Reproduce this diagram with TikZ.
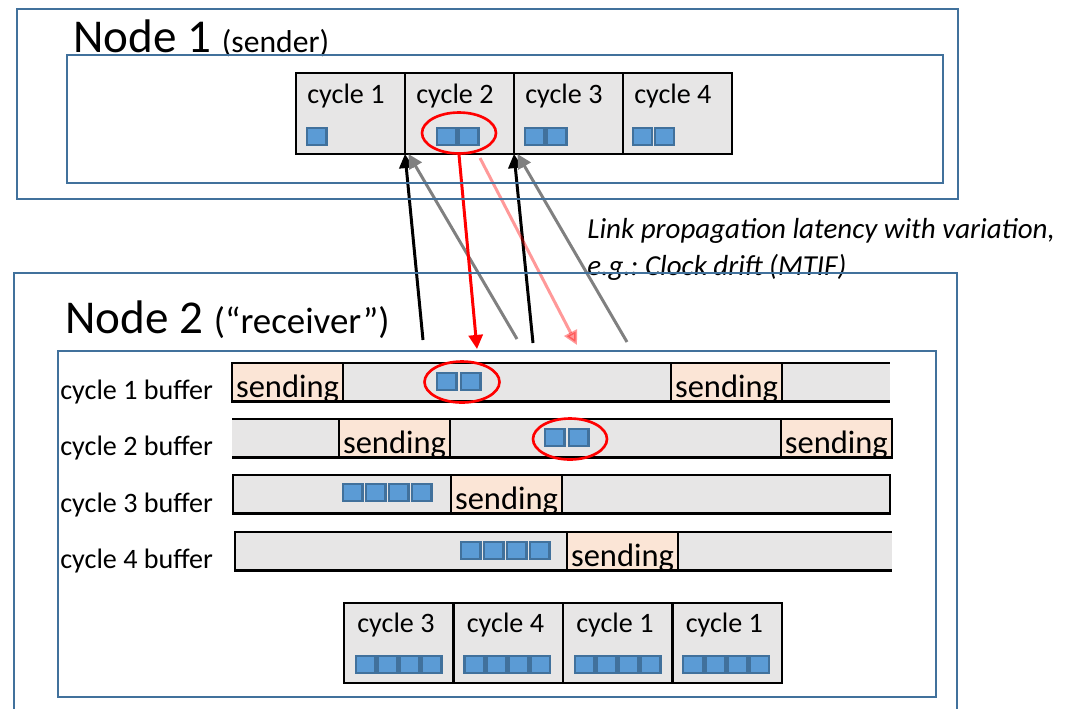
\documentclass[tikz,border=0pt]{standalone}
\usepackage{fontspec}
\setmainfont{Carlito}
\usetikzlibrary{positioning,shapes.geometric,arrows.meta,calc}
\definecolor{frameblue}{HTML}{41719C}
\definecolor{pktblue}{HTML}{5B9BD5}
\definecolor{boxgray}{HTML}{E7E6E6}
\definecolor{sendpeach}{HTML}{FBE5D6}
\newcommand{\pktrow}[6]{% name prefix, anchor, dx, dy, count, pitch
  \foreach \k in {1,...,#5}
    \node[pkt, anchor=north west] (#1\k) at ($(#2)+(#3+\k*#6-#6,#4)$) {};}

\begin{document}
\begin{tikzpicture}[x=0.02cm, y=-0.02cm]
        \tikzstyle{nodeframe} = [draw=frameblue, line width=1.5pt, inner sep=0, outer sep=0]
        \tikzstyle{cycbox} = [draw, line width=1.5pt, fill=boxgray, minimum width=2.18cm, minimum height=1.62cm, inner sep=0, outer sep=0]
        \tikzstyle{cyctext} = [inner sep=0, font=\fontsize{16}{19}\selectfont]
        \tikzstyle{pkt} = [draw=frameblue, line width=1.2pt, fill=pktblue, minimum width=0.39cm, minimum height=0.34cm, inner sep=0, outer sep=0]
        \tikzstyle{bufbody} = [fill=boxgray, anchor=north west, minimum height=0.77cm, inner sep=0, outer sep=0]
        \tikzstyle{bufline} = [line width=1.5pt]
        \tikzstyle{sendbox} = [draw, line width=1.5pt, fill=sendpeach, minimum width=2.22cm, minimum height=0.77cm, inner sep=0, outer sep=0, text height=17pt, text depth=0pt, font=\fontsize{18.5}{20}\selectfont]
        \tikzstyle{hilite} = [ellipse, draw=red, line width=1.5pt, inner sep=0, minimum width=1.48cm, minimum height=0.82cm]
        \tikzstyle{link} = [->, >={Triangle[length=8pt, width=8pt]}, line width=1.7pt]
        \useasboundingbox (0,0) rectangle (1071,708);

        % sender cycles
        \node[cycbox, anchor=north west] (c1) at (296,73) {};
        \node[cycbox, right=0pt of c1] (c2) {};
        \node[cycbox, right=0pt of c2] (c3) {};
        \node[cycbox, right=0pt of c3] (c4) {};
        \node[cyctext, anchor=base west] (c1t) at ($(c1.north west)+(11,30)$) {cycle 1};
        \node[cyctext, anchor=base west] (c2t) at ($(c2.north west)+(11,30)$) {cycle 2};
        \node[cyctext, anchor=base west] (c3t) at ($(c3.north west)+(11,30)$) {cycle 3};
        \node[cyctext, anchor=base west] (c4t) at ($(c4.north west)+(11,30)$) {cycle 4};
        \pktrow{tp1-}{c1.north west}{11}{55}{1}{22}
        \pktrow{tp2-}{c2.north west}{32}{55}{2}{22}
        \pktrow{tp3-}{c3.north west}{11}{55}{2}{22}
        \pktrow{tp4-}{c4.north west}{10}{55}{2}{22}
        \node[hilite] (e0) at (459,133) {};

        % receiver buffers
        \node[bufbody, minimum width=13.16cm] (r1) at (232,363) {};
        \node[bufbody, minimum width=13.2cm] (r2) at (232,419) {};
        \node[bufbody, minimum width=13.14cm] (r3) at (233,475) {};
        \node[bufbody, minimum width=13.14cm] (r4) at (235,532) {};
        \draw[bufline] (r1.north west) -- (r1.north east) (r1.south west) -- (r1.south east);
        \draw[bufline] (r2.north west) -- (r2.north east) (r2.south west) -- (r2.south east);
        \draw[bufline] (r3.north west) rectangle (r3.south east);
        \draw[bufline] (r4.north east) -- (r4.north west) -- (r4.south west) -- (r4.south east);
        \node[sendbox, anchor=north west] (s1a) at (r1.north west) {sending};
        \node[sendbox, anchor=north west] (s1b) at ($(r1.north west)+(439,0)$) {sending};
        \node[sendbox, anchor=north west] (s2a) at ($(r2.north west)+(107,0)$) {sending};
        \node[sendbox, anchor=north east] (s2b) at (r2.north east) {sending};
        \node[sendbox, anchor=north west] (s3) at ($(r3.north west)+(218,0)$) {sending};
        \node[sendbox, anchor=north west] (s4) at ($(r4.north west)+(332,0)$) {sending};
        \pktrow{bp1-}{r1.north west}{205}{10}{2}{24}
        \pktrow{bp2-}{r2.north west}{313}{10}{2}{24}
        \pktrow{bp3-}{r3.north west}{110}{9}{4}{23}
        \pktrow{bp4-}{r4.north west}{226}{10}{4}{23}
        \node[hilite, minimum width=1.5cm] (e1) at (462,382) {};
        \node[hilite] (e2) at (570,439) {};
        \node[cyctext, anchor=base west] (l1) at (60,399) {cycle 1 buffer};
        \node[cyctext, anchor=base west] (l2) at (60,455) {cycle 2 buffer};
        \node[cyctext, anchor=base west] (l3) at (60,512) {cycle 3 buffer};
        \node[cyctext, anchor=base west] (l4) at (60,568) {cycle 4 buffer};

        % receiver output cycles
        \node[cycbox, anchor=north west, minimum width=2.19cm, minimum height=1.6cm] (d1) at (344,603) {};
        \node[cycbox, minimum width=2.19cm, minimum height=1.6cm, right=0pt of d1] (d2) {};
        \node[cycbox, minimum width=2.19cm, minimum height=1.6cm, right=0pt of d2] (d3) {};
        \node[cycbox, minimum width=2.19cm, minimum height=1.6cm, right=0pt of d3] (d4) {};
        \node[cyctext, anchor=base west] (d1t) at ($(d1.north west)+(13,29)$) {cycle 3};
        \node[cyctext, anchor=base west] (d2t) at ($(d2.north west)+(13,29)$) {cycle 4};
        \node[cyctext, anchor=base west] (d3t) at ($(d3.north west)+(13,29)$) {cycle 1};
        \node[cyctext, anchor=base west] (d4t) at ($(d4.north west)+(13,29)$) {cycle 1};
        \pktrow{dp1-}{d1.north west}{12}{53}{4}{22}
        \pktrow{dp2-}{d2.north west}{11}{53}{4}{22}
        \pktrow{dp3-}{d3.north west}{12}{53}{4}{22}
        \pktrow{dp4-}{d4.north west}{11}{53}{4}{22}

        % link latency
        \coordinate (b1) at (423,340);
        \coordinate (g1) at (517,339);
        \coordinate (b2) at (533,343);
        \coordinate (g2) at (627,342);
        \coordinate (rd) at (477,349);
        \coordinate (pk0) at (480,158);
        \coordinate (pk1) at (577,345);
        \draw[link] (b1) -- (c1.south east);
        \draw[link] (b2) -- (c2.south east);
        \draw[link, gray] (g1) -- ([xshift=2]c1.south east);
        \draw[link, gray] (g2) -- ([xshift=2]c2.south east);
        \draw[link, red] (e0.south) -- (rd);
        \draw[link, red, opacity=0.4] (pk0) -- (pk1);
        \node[anchor=north west, align=left, inner sep=0, font=\fontsize{16.5}{21}\selectfont\itshape] (lat) at (587,218) {Link propagation latency with variation,\\e.g.:\ Clock drift (MTIF)};

        % nodes
        \node[anchor=base west, inner sep=0, font=\fontsize{26.8}{30}\selectfont] (n1t) at (73,52) {Node 1 {\fontsize{18}{20}\selectfont(sender)}};
        \node[anchor=base west, inner sep=0, font=\fontsize{26.8}{30}\selectfont] (n2t) at (65,333) {Node 2 {\fontsize{21}{24}\selectfont(“receiver”)}};
        \node[nodeframe, anchor=north west, minimum width=18.82cm, minimum height=3.8cm] (n1) at (17,9) {};
        \node[nodeframe, anchor=north west, minimum width=17.52cm, minimum height=2.56cm] (n1in) at (67,55) {};
        \node[nodeframe, anchor=north west, minimum width=18.86cm, minimum height=9.4cm] (n2) at (14,273) {};
        \node[nodeframe, anchor=north west, minimum width=17.56cm, minimum height=6.92cm] (n2in) at (58,351) {};
\end{tikzpicture}
\end{document}
